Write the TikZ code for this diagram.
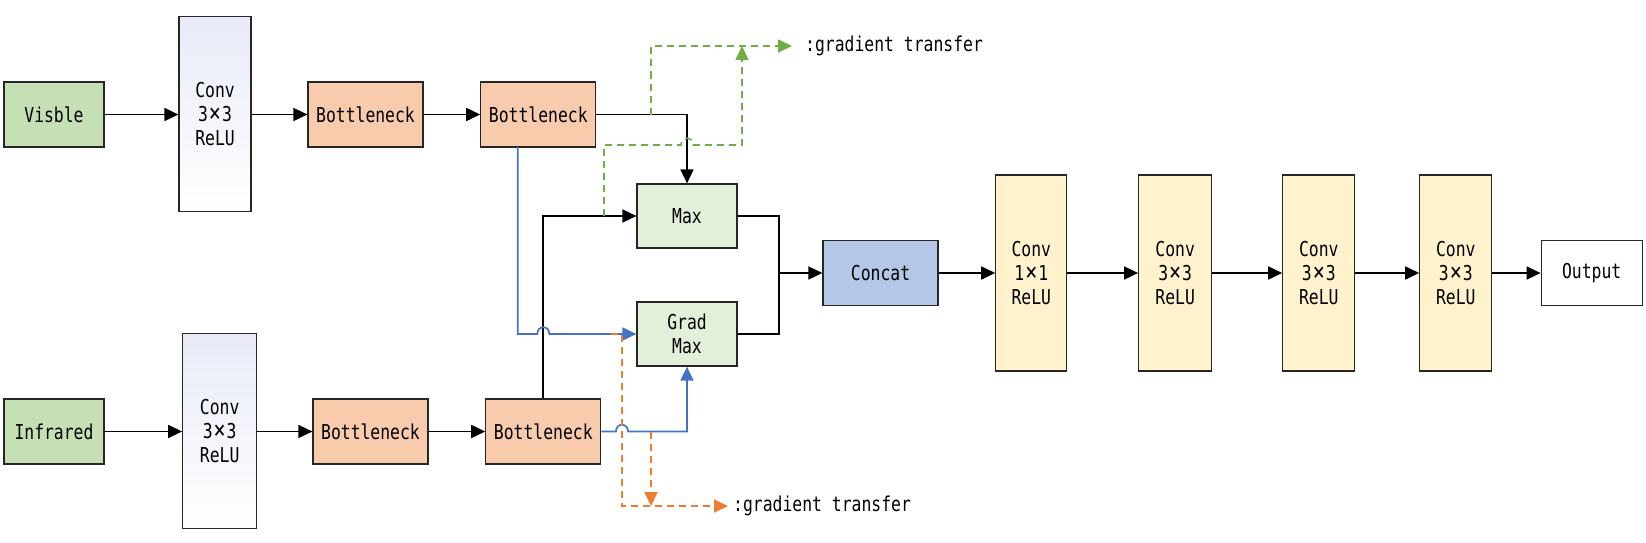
\documentclass[tikz,border=0pt]{standalone}
\usepackage{fontspec}
\newfontfamily\dmono[FakeStretch=0.8]{DejaVu Sans Mono}
\usetikzlibrary{arrows.meta}
\definecolor{ingreen}{HTML}{C5E0B4}
\definecolor{bnorange}{HTML}{F8CBAD}
\definecolor{maxgreen}{HTML}{E2F0D9}
\definecolor{catblue}{HTML}{B4C7E7}
\definecolor{convyellow}{HTML}{FFF2CC}
\definecolor{convtop}{HTML}{E8EBF7}
\definecolor{gline}{HTML}{70AD47}
\definecolor{oline}{HTML}{ED7D31}
\definecolor{bline}{HTML}{4472C4}
\newcommand{\tmul}{\kern1pt{\fontsize{25}{24}\selectfont ×}\kern1pt}
\tikzset{
  box/.style={draw=black!85, line width=1.2pt, inner sep=0pt, align=center,
    font=\dmono\fontsize{20.5}{24}\selectfont},
  inbox/.style={box, fill=ingreen, minimum width=100pt, minimum height=65pt},
  bnbox/.style={box, fill=bnorange, minimum width=115pt, minimum height=65pt},
  maxbox/.style={box, fill=maxgreen, minimum width=100pt, minimum height=64pt},
  convin/.style={box, top color=convtop, bottom color=white, minimum height=195pt},
  convout/.style={box, fill=convyellow, minimum width=72pt, minimum height=196pt},
  lbl/.style={anchor=west, inner sep=0pt, font=\dmono\fontsize{20.5}{24}\selectfont},
  tip/.style={-{Triangle[length=14pt,width=13pt]}},
  arr/.style={line width=1.7pt, draw=black, tip},
  ln/.style={line width=1.7pt, draw=black},
  barr/.style={line width=1.7pt, draw=bline, tip},
  garr/.style={line width=1.7pt, draw=gline, dash pattern=on 7pt off 5pt, tip},
  oarr/.style={line width=1.7pt, draw=oline, dash pattern=on 7pt off 5pt, tip},
}
\begin{document}
\begin{tikzpicture}[x=1pt,y=-1pt]
\useasboundingbox (0,0) rectangle (1646,543);
% top row
\node[inbox] (vis) at (54,114.5) {Visble};
\node[convin, minimum width=72pt] (cv1) at (215,114) {Conv\\3\tmul 3\\ReLU};
\node[bnbox] (bn1) at (365.5,114.5) {Bottleneck};
\node[bnbox] (bn2) at (538.3,114.5) {Bottleneck};
% bottom row
\node[inbox] (ir) at (54,431.5) {Infrared};
\node[convin, minimum width=74pt] (cv1b) at (219.7,431) {Conv\\3\tmul 3\\ReLU};
\node[bnbox] (bn1b) at (370.5,431.5) {Bottleneck};
\node[bnbox] (bn2b) at (543.3,431.5) {Bottleneck};
% fusion
\node[maxbox] (mx) at (687,216) {Max};
\node[maxbox] (gmx) at (687,334) {Grad\\Max};
\node[box, fill=catblue, minimum width=115pt, minimum height=65pt] (cat) at (880.5,273) {Concat};
\node[convout, minimum width=71pt] (c1) at (1031.3,273) {Conv\\1\tmul 1\\ReLU};
\node[convout, minimum width=73pt] (c2) at (1175.2,273) {Conv\\3\tmul 3\\ReLU};
\node[convout] (c3) at (1318.8,273) {Conv\\3\tmul 3\\ReLU};
\node[convout] (c4) at (1455.8,273) {Conv\\3\tmul 3\\ReLU};
\node[box, minimum width=101pt, minimum height=65pt] (out) at (1591.7,273) {Output};
% labels
\node[lbl] (lg) at (805,46) {:gradient transfer};
\node[lbl] (lo) at (733,506) {:gradient transfer};

% waypoints
\coordinate (merge) at (779,273);
\coordinate (mxr) at (779,216);
\coordinate (gmxr) at (779,334);
\coordinate (gA) at (651,114.5);
\coordinate (gB) at (651,46);
\coordinate (gEnd) at (792,46);
\coordinate (gC) at (604,216);
\coordinate (gD) at (604,145);
\coordinate (gE) at (742,145);
\coordinate (gF) at (742,46);
\coordinate (bA) at (517.7,147);
\coordinate (bB) at (517.7,334);
\coordinate (oA) at (611,334);
\coordinate (oB) at (622,334);
\coordinate (oC) at (622,506);
\coordinate (oEnd) at (728,506);
\coordinate (oD) at (651,431.5);
\coordinate (oE) at (651,506);

% main arrows
\draw[arr] (vis) -- (cv1.west |- vis);
\draw[arr] (cv1.east |- bn1) -- (bn1);
\draw[arr] (bn1) -- (bn2);
\draw[arr] (ir) -- (cv1b.west |- ir);
\draw[arr] (cv1b.east |- bn1b) -- (bn1b);
\draw[arr] (bn1b) -- (bn2b);
\draw[arr] (bn2.east) -| (mx.north);
\draw[arr] (bn2b.north) |- (mx.west);
\draw[ln] (mx.east) -- (mxr) -- (gmxr) -- (gmx.east);
\draw[arr] (merge) -- (cat.west);
\draw[arr] (cat) -- (c1);
\draw[arr] (c1) -- (c2);
\draw[arr] (c2) -- (c3);
\draw[arr] (c3) -- (c4);
\draw[arr] (c4) -- (out);

% blue gradient paths with hops
\draw[barr] (bA) -- (bB) -- (537.3,334) .. controls (537.3,325) and (549.3,325) .. (549.3,334) -- (gmx.west);
\draw[barr] (bn2b.east) -- (616,431.5) .. controls (616,422.5) and (628,422.5) .. (628,431.5) -- (687,431.5) -- (gmx.south);

% green dashed
\draw[garr] (gA) -- (gB) -- (gEnd);
\draw[garr] (gC) -- (gD) -- (681,145) .. controls (681,136) and (693,136) .. (693,145) -- (gE) -- (gF);

% orange dashed
\draw[oarr] (oA) -- (oB) -- (oC) -- (oEnd);
\draw[oarr] (oD) -- (oE);
\end{tikzpicture}
\end{document}
